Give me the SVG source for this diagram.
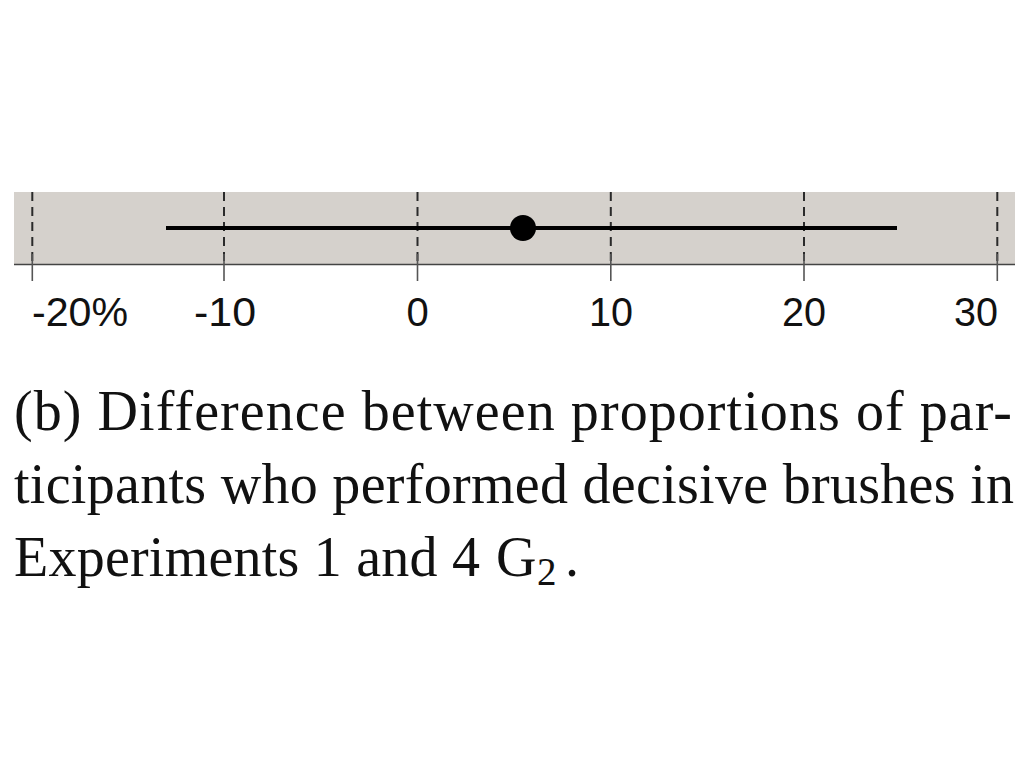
<svg xmlns="http://www.w3.org/2000/svg" width="1024" height="768" viewBox="0 0 1024 768">
<style>
.grid{stroke:#2a2a2a;stroke-width:2;stroke-dasharray:9 6;fill:none}
.tick{stroke:#555;stroke-width:1.6;fill:none}
.lab{font-family:"Liberation Sans",Arial,sans-serif;font-size:40px;fill:#111}
.cap{font-family:"Liberation Serif","Times New Roman",serif;font-size:56px;fill:#111}
</style>
<rect width="1024" height="768" fill="#fff"/>
<g id="plot">
<rect x="14" y="192" width="1001" height="72" fill="#d5d1cc"/>
<g id="gridlines">
<line class="grid" x1="32.3" y1="192" x2="32.3" y2="264"/>
<line class="grid" x1="224" y1="192" x2="224" y2="264"/>
<line class="grid" x1="417.5" y1="192" x2="417.5" y2="264"/>
<line class="grid" x1="610.8" y1="192" x2="610.8" y2="264"/>
<line class="grid" x1="804" y1="192" x2="804" y2="264"/>
<line class="grid" x1="997.3" y1="192" x2="997.3" y2="264"/>
</g>
<g id="axis">
<line x1="14" y1="264.5" x2="1015" y2="264.5" stroke="#444" stroke-width="1.6"/>
<line class="tick" x1="32.3" y1="254" x2="32.3" y2="281"/>
<line class="tick" x1="224" y1="254" x2="224" y2="281"/>
<line class="tick" x1="417.5" y1="254" x2="417.5" y2="281"/>
<line class="tick" x1="610.8" y1="254" x2="610.8" y2="281"/>
<line class="tick" x1="804" y1="254" x2="804" y2="281"/>
<line class="tick" x1="997.3" y1="254" x2="997.3" y2="281"/>
<text class="lab" x="32" y="326" textLength="96" lengthAdjust="spacingAndGlyphs">-20%</text>
<text class="lab" x="194" y="326" textLength="62" lengthAdjust="spacingAndGlyphs">-10</text>
<text class="lab" x="417.5" y="326" text-anchor="middle">0</text>
<text class="lab" x="589" y="326" textLength="44" lengthAdjust="spacingAndGlyphs">10</text>
<text class="lab" x="782" y="326" textLength="44" lengthAdjust="spacingAndGlyphs">20</text>
<text class="lab" x="954" y="326" textLength="44" lengthAdjust="spacingAndGlyphs">30</text>
</g>
<g id="interval">
<line x1="166" y1="228" x2="897" y2="228" stroke="#000" stroke-width="4"/>
<circle cx="523" cy="228" r="13" fill="#000"/>
</g>
</g>
<g id="caption">
<text class="cap" x="14" y="430" textLength="998" lengthAdjust="spacing">(b) Difference between proportions of par-</text>
<text class="cap" x="14" y="503" textLength="1000" lengthAdjust="spacing">ticipants who performed decisive brushes in</text>
<text class="cap" y="576"><tspan x="14" textLength="466" lengthAdjust="spacing">Experiments 1 and 4</tspan><tspan x="496">G</tspan><tspan x="537" dy="9" font-size="39">2</tspan><tspan x="565" dy="-9">.</tspan></text>
</g>
</svg>
